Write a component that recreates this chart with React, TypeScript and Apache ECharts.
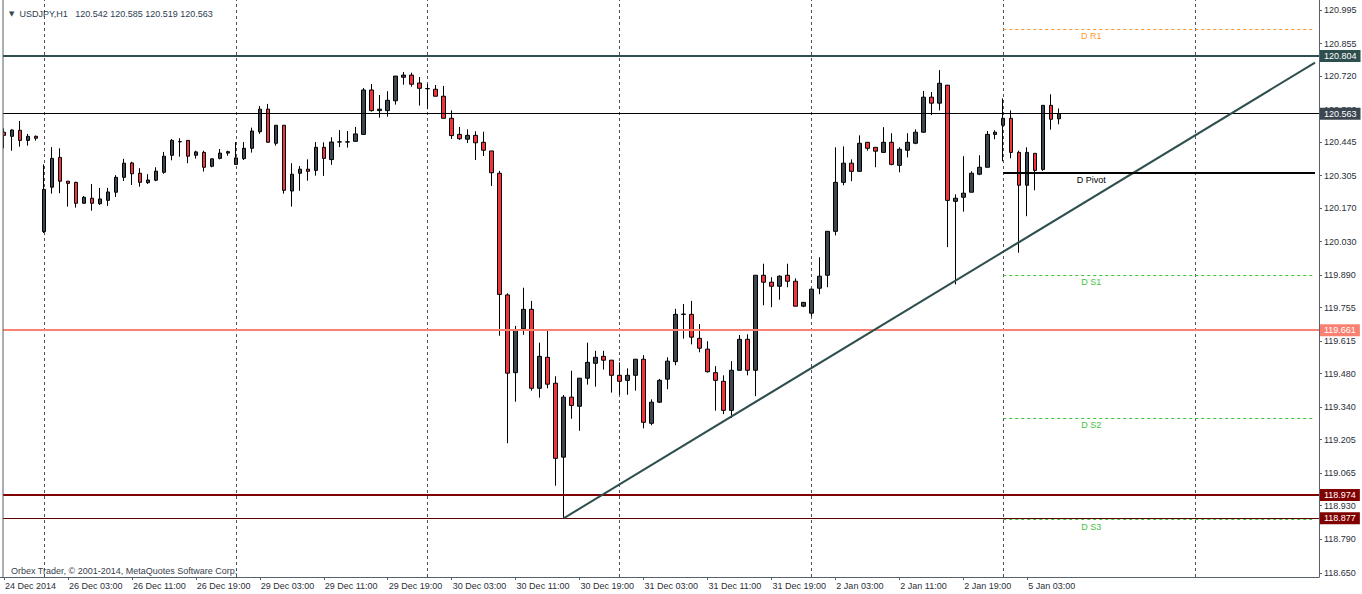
import React, { useEffect, useRef } from "react";
import * as echarts from "echarts";

// ---- time axis (H1 bars) ----
const sessions: [string, number, number][] = [
  ["24 Dec", 19, 5],
  ["26 Dec", 0, 24],
  ["29 Dec", 0, 24],
  ["30 Dec", 0, 24],
  ["31 Dec", 0, 24],
  ["2 Jan", 0, 24],
  ["5 Jan", 0, 24],
  ["6 Jan", 0, 16],
];
const firstLabel = "24 Dec 2014";

// ---- OHLC (USDJPY H1) ----
const opens = [
  120.486, 120.469, 120.494, 120.452, 120.469, 120.072, 120.257, 120.381, 120.282, 120.277,
  120.190, 120.211, 120.188, 120.202, 120.236, 120.298, 120.358, 120.315, 120.276, 120.286,
  120.319, 120.390, 120.446, 120.452, 120.390, 120.402, 120.344, 120.377, 120.399, 120.352,
  120.376, 120.419, 120.488, 120.582, 120.440, 120.515, 120.241, 120.315, 120.332, 120.327,
  120.423, 120.372, 120.445, 120.446, 120.448, 120.477, 120.662, 120.576, 120.576, 120.617,
  120.715, 120.724, 120.691, 120.668, 120.665, 120.636, 120.544, 120.477, 120.457, 120.473,
  120.444, 120.408, 120.315, 119.808, 119.484, 119.667, 119.748, 119.419, 119.548, 119.440,
  119.132, 119.382, 119.344, 119.461, 119.523, 119.552, 119.536, 119.473, 119.452, 119.473,
  119.540, 119.273, 119.361, 119.457, 119.530, 119.727, 119.727, 119.627, 119.582, 119.484,
  119.448, 119.327, 119.494, 119.623, 119.494, 119.890, 119.861, 119.844, 119.890, 119.865,
  119.761, 119.732, 119.836, 119.890, 120.073, 120.277, 120.357, 120.323, 120.444, 120.423,
  120.402, 120.444, 120.348, 120.411, 120.440, 120.486, 120.632, 120.607, 120.682, 120.198,
  120.215, 120.236, 120.311, 120.340, 120.477, 120.515, 120.544, 120.402, 120.265, 120.398,
  120.331, 120.598, 120.542,
];
const highs = [
  120.502, 120.498, 120.533, 120.479, 120.472, 120.352, 120.424, 120.419, 120.283, 120.280,
  120.220, 120.270, 120.254, 120.254, 120.307, 120.375, 120.363, 120.336, 120.311, 120.340,
  120.404, 120.458, 120.461, 120.452, 120.409, 120.409, 120.377, 120.416, 120.409, 120.445,
  120.445, 120.505, 120.595, 120.604, 120.515, 120.515, 120.357, 120.345, 120.373, 120.445,
  120.444, 120.465, 120.495, 120.491, 120.508, 120.670, 120.687, 120.641, 120.657, 120.720,
  120.737, 120.734, 120.716, 120.687, 120.683, 120.679, 120.577, 120.508, 120.498, 120.490,
  120.488, 120.408, 120.325, 119.815, 119.679, 119.838, 119.783, 119.609, 119.666, 119.469,
  119.391, 119.492, 119.462, 119.609, 119.575, 119.575, 119.537, 119.527, 119.502, 119.541,
  119.557, 119.373, 119.458, 119.548, 119.750, 119.770, 119.783, 119.687, 119.615, 119.511,
  119.473, 119.532, 119.641, 119.644, 119.891, 119.938, 119.882, 119.890, 119.938, 119.877,
  119.778, 119.833, 119.965, 120.074, 120.423, 120.427, 120.373, 120.473, 120.445, 120.424,
  120.507, 120.482, 120.423, 120.482, 120.498, 120.658, 120.654, 120.745, 120.683, 120.227,
  120.386, 120.323, 120.390, 120.491, 120.494, 120.627, 120.577, 120.409, 120.423, 120.399,
  120.599, 120.644, 120.585,
];
const lows = [
  120.419, 120.409, 120.426, 120.430, 120.451, 120.066, 120.230, 120.232, 120.176, 120.172,
  120.188, 120.159, 120.183, 120.179, 120.216, 120.283, 120.266, 120.259, 120.270, 120.282,
  120.313, 120.369, 120.384, 120.357, 120.376, 120.322, 120.340, 120.373, 120.388, 120.352,
  120.370, 120.401, 120.479, 120.444, 120.430, 120.230, 120.176, 120.242, 120.284, 120.305,
  120.304, 120.350, 120.424, 120.422, 120.447, 120.477, 120.572, 120.547, 120.551, 120.601,
  120.684, 120.676, 120.597, 120.582, 120.636, 120.544, 120.458, 120.454, 120.441, 120.370,
  120.387, 120.262, 119.638, 119.190, 119.363, 119.642, 119.409, 119.380, 119.419, 119.013,
  118.877, 119.292, 119.242, 119.434, 119.426, 119.497, 119.401, 119.392, 119.392, 119.409,
  119.252, 119.265, 119.358, 119.415, 119.515, 119.626, 119.602, 119.569, 119.484, 119.326,
  119.311, 119.295, 119.493, 119.473, 119.386, 119.765, 119.757, 119.788, 119.840, 119.761,
  119.757, 119.719, 119.811, 119.840, 120.056, 120.265, 120.282, 120.322, 120.409, 120.340,
  120.402, 120.348, 120.319, 120.381, 120.436, 120.485, 120.557, 120.577, 120.007, 119.852,
  120.155, 120.235, 120.307, 120.340, 120.457, 120.365, 120.377, 119.984, 120.136, 120.244,
  120.325, 120.497, 120.519,
];
const closes = [
  120.473, 120.495, 120.452, 120.469, 120.461, 120.248, 120.377, 120.282, 120.273, 120.190,
  120.215, 120.190, 120.208, 120.237, 120.298, 120.357, 120.313, 120.277, 120.287, 120.324,
  120.386, 120.452, 120.447, 120.386, 120.404, 120.340, 120.375, 120.399, 120.405, 120.379,
  120.419, 120.491, 120.582, 120.444, 120.515, 120.244, 120.311, 120.332, 120.323, 120.423,
  120.377, 120.445, 120.446, 120.445, 120.479, 120.662, 120.576, 120.582, 120.619, 120.720,
  120.724, 120.686, 120.669, 120.667, 120.636, 120.544, 120.472, 120.459, 120.473, 120.442,
  120.411, 120.317, 119.810, 119.482, 119.661, 119.748, 119.419, 119.552, 119.436, 119.127,
  119.382, 119.347, 119.461, 119.527, 119.548, 119.536, 119.473, 119.448, 119.473, 119.540,
  119.277, 119.361, 119.452, 119.532, 119.727, 119.728, 119.632, 119.586, 119.488, 119.452,
  119.327, 119.494, 119.623, 119.494, 119.890, 119.861, 119.844, 119.886, 119.865, 119.761,
  119.777, 119.832, 119.886, 120.073, 120.277, 120.357, 120.323, 120.440, 120.419, 120.407,
  120.444, 120.352, 120.415, 120.444, 120.486, 120.632, 120.607, 120.690, 120.202, 120.211,
  120.232, 120.315, 120.340, 120.477, 120.486, 120.544, 120.402, 120.265, 120.402, 120.327,
  120.598, 120.540, 120.563,
];

// ---- price axis ----
const yTicks = [
  118.65, 118.79, 118.93, 119.065, 119.205, 119.34, 119.48, 119.615, 119.755, 119.89,
  120.03, 120.17, 120.305, 120.445, 120.58, 120.72, 120.855, 120.995,
];
const Y_MIN = 118.6325;
const Y_MAX = 121.037;

// ---- horizontal levels ----
const resistanceLevel = 120.804;
const bidLevel = 120.563;
const midLevel = 119.661;
const supportLevel = 118.974;
const lowLevel = 118.877;

// ---- daily pivots ----
const pivotNames = ["D R1", "D Pivot", "D S1", "D S2", "D S3"];
const pivotValues = [120.915, 120.317, 119.89, 119.295, 118.872];
const pivotStartBar = 125;
const pivotLabelBar = 136;

// ---- trend line ----
const trendStartBar = 70;
const trendStartPrice = 118.877;
const trendEndBar = 164;
const trendEndPrice = 120.776;

const header = "USDJPY,H1   120.542 120.585 120.519 120.563";
const copyright = "Orbex Trader, \u00a9 2001-2014, MetaQuotes Software Corp.";

const FONT = '"Liberation Sans", Arial, sans-serif';
const AXIS = "#56616b";
const TEXT = "#2a3038";
const UP = "#3b4651";
const DOWN = "#f2333b";

export default function App() {
  const ref = useRef<HTMLDivElement>(null);

  useEffect(() => {
    document.body.style.margin = "0";
    document.body.style.overflow = "hidden";
    if (!ref.current) return;
    const chart = echarts.init(ref.current, null, { renderer: "svg" });

    const categories: string[] = [];
    const hours: number[] = [];
    sessions.forEach(([day, start, count]) => {
      for (let i = 0; i < count; i++) {
        const h = start + i;
        categories.push(`${day} ${String(h).padStart(2, "0")}:00`);
        hours.push(h);
      }
    });
    const nBars = opens.length;
    const lastIdx = categories.length - 1;
    const showLabel = (i: number) => i === 0 || (i % 8 === 0 && i < nBars);

    const candles = opens.map((o, i) => [o, closes[i], lows[i], highs[i]]);

    const separators = hours
      .map((h, i) => (h === 0 ? i : -1))
      .filter((i) => i >= 0)
      .map((i) => ({ xAxis: categories[i] }));

    const box = (bg: string, value: number) => ({
      show: true,
      position: "end",
      distance: 1,
      formatter: value.toFixed(3),
      backgroundColor: bg,
      color: "#ffffff",
      padding: [2, 4, 1, 4],
      fontSize: 9,
      fontFamily: FONT,
    });

    const pivotColors = ["#ff9a2e", "#000000", "#3cc43c", "#3cc43c", "#3cc43c"];
    const pivotLineStyles = pivotNames.map((n, i) =>
      n === "D Pivot"
        ? { color: "#000000", width: 2, type: "solid" }
        : { color: pivotColors[i], width: 1, type: [3, 3] }
    );

    const levelLines: any[] = [
      { yAxis: resistanceLevel, lineStyle: { color: "#2f4f4f", width: 2, type: "solid" }, label: box("#2f4f4f", resistanceLevel) },
      { yAxis: bidLevel, lineStyle: { color: "#000000", width: 1, type: "solid" }, label: box("#3b4651", bidLevel) },
      { yAxis: midLevel, lineStyle: { color: "#fa8072", width: 2, type: "solid" }, label: box("#fa8072", midLevel) },
      { yAxis: supportLevel, lineStyle: { color: "#800000", width: 2, type: "solid" }, label: box("#800000", supportLevel) },
      { yAxis: lowLevel, lineStyle: { color: "#5a0000", width: 1, type: "solid" }, label: box("#800000", lowLevel) },
      [
        { coord: [categories[trendStartBar], trendStartPrice], lineStyle: { color: "#2f4f4f", width: 2, type: "solid" }, label: { show: false } },
        { coord: [categories[trendEndBar], trendEndPrice] },
      ],
      ...pivotValues.map((v, i) => [
        { coord: [categories[pivotStartBar], v], lineStyle: pivotLineStyles[i], label: { show: false } },
        { coord: [categories[lastIdx], v] },
      ]),
    ];

    const option: any = {
      animation: false,
      textStyle: { fontFamily: FONT },
      title: [
        {
          text: "{a|\u25BC}  " + header,
          left: 4,
          top: 4,
          textStyle: {
            fontSize: 9,
            fontWeight: "normal",
            color: "#2d3c50",
            fontFamily: FONT,
            rich: { a: { fontSize: 7, color: "#3b4651", fontFamily: "DejaVu Sans" } },
          },
        },
        {
          text: copyright,
          left: 6,
          top: 561,
          textStyle: { fontSize: 9, fontWeight: "normal", color: "#38424c", fontFamily: FONT },
        },
      ],
      grid: { left: -1, right: 43, top: 0, bottom: 17, containLabel: false },
      xAxis: {
        type: "category",
        data: categories,
        boundaryGap: true,
        axisLine: { show: true, lineStyle: { color: AXIS, width: 1 } },
        axisTick: { show: true, interval: (i: number) => showLabel(i), alignWithLabel: true, length: 3, lineStyle: { color: AXIS } },
        axisLabel: {
          interval: (i: number) => showLabel(i),
          formatter: (v: string, i: number) => (i === 0 ? firstLabel : v),
          align: "left",
          padding: [0, 0, 0, 1],
          margin: 4,
          fontSize: 9,
          color: TEXT,
          fontFamily: FONT,
        },
        splitLine: { show: false },
      },
      yAxis: {
        type: "value",
        position: "right",
        min: Y_MIN,
        max: Y_MAX,
        axisLine: { show: true, lineStyle: { color: AXIS, width: 1 } },
        axisTick: { show: true, customValues: yTicks, length: 3, lineStyle: { color: AXIS } },
        axisLabel: {
          customValues: yTicks,
          formatter: (v: number) => v.toFixed(3),
          fontSize: 9,
          color: TEXT,
          margin: 5,
          fontFamily: FONT,
        },
        splitLine: { show: false },
      },
      graphic: [
        { type: "rect", left: 0, top: 0, shape: { x: 0, y: 0, width: 3, height: 577 }, style: { fill: "#ffffff" }, z: 100 },
        { type: "line", shape: { x1: 3, y1: 0, x2: 3, y2: 577 }, style: { stroke: AXIS, lineWidth: 1 }, z: 101 },
      ],
      series: [
        {
          type: "candlestick",
          data: candles,
          barWidth: 4,
          z: 2,
          itemStyle: {
            color: UP,
            color0: DOWN,
            borderColor: "#000000",
            borderColor0: "#000000",
            borderColorDoji: "#000000",
            borderWidth: 1,
          },
          emphasis: { disabled: true },
          markLine: {
            silent: true,
            z: 1,
            symbol: ["none", "none"],
            label: { show: false },
            lineStyle: { color: "#4a5058", type: [3, 3], width: 1 },
            emphasis: { disabled: true },
            data: separators,
          },
        },
        {
          type: "line",
          data: [],
          z: 5,
          silent: true,
          markLine: {
            silent: true,
            z: 5,
            precision: 3,
            symbol: ["none", "none"],
            emphasis: { disabled: true },
            data: levelLines,
          },
          markPoint: {
            silent: true,
            symbol: "rect",
            symbolSize: 1,
            itemStyle: { color: "rgba(0,0,0,0)" },
            data: pivotNames.map((n, i) => ({
              name: n,
              coord: [categories[pivotLabelBar], pivotValues[i]],
              label: {
                show: true,
                position: "bottom",
                distance: 2,
                formatter: n,
                color: pivotColors[i],
                fontSize: 9,
                fontFamily: FONT,
              },
            })),
          },
        },
      ],
    };

    chart.setOption(option);
    return () => chart.dispose();
  }, []);

  return <div ref={ref} style={{ width: 1362, height: 594 }} />;
}
